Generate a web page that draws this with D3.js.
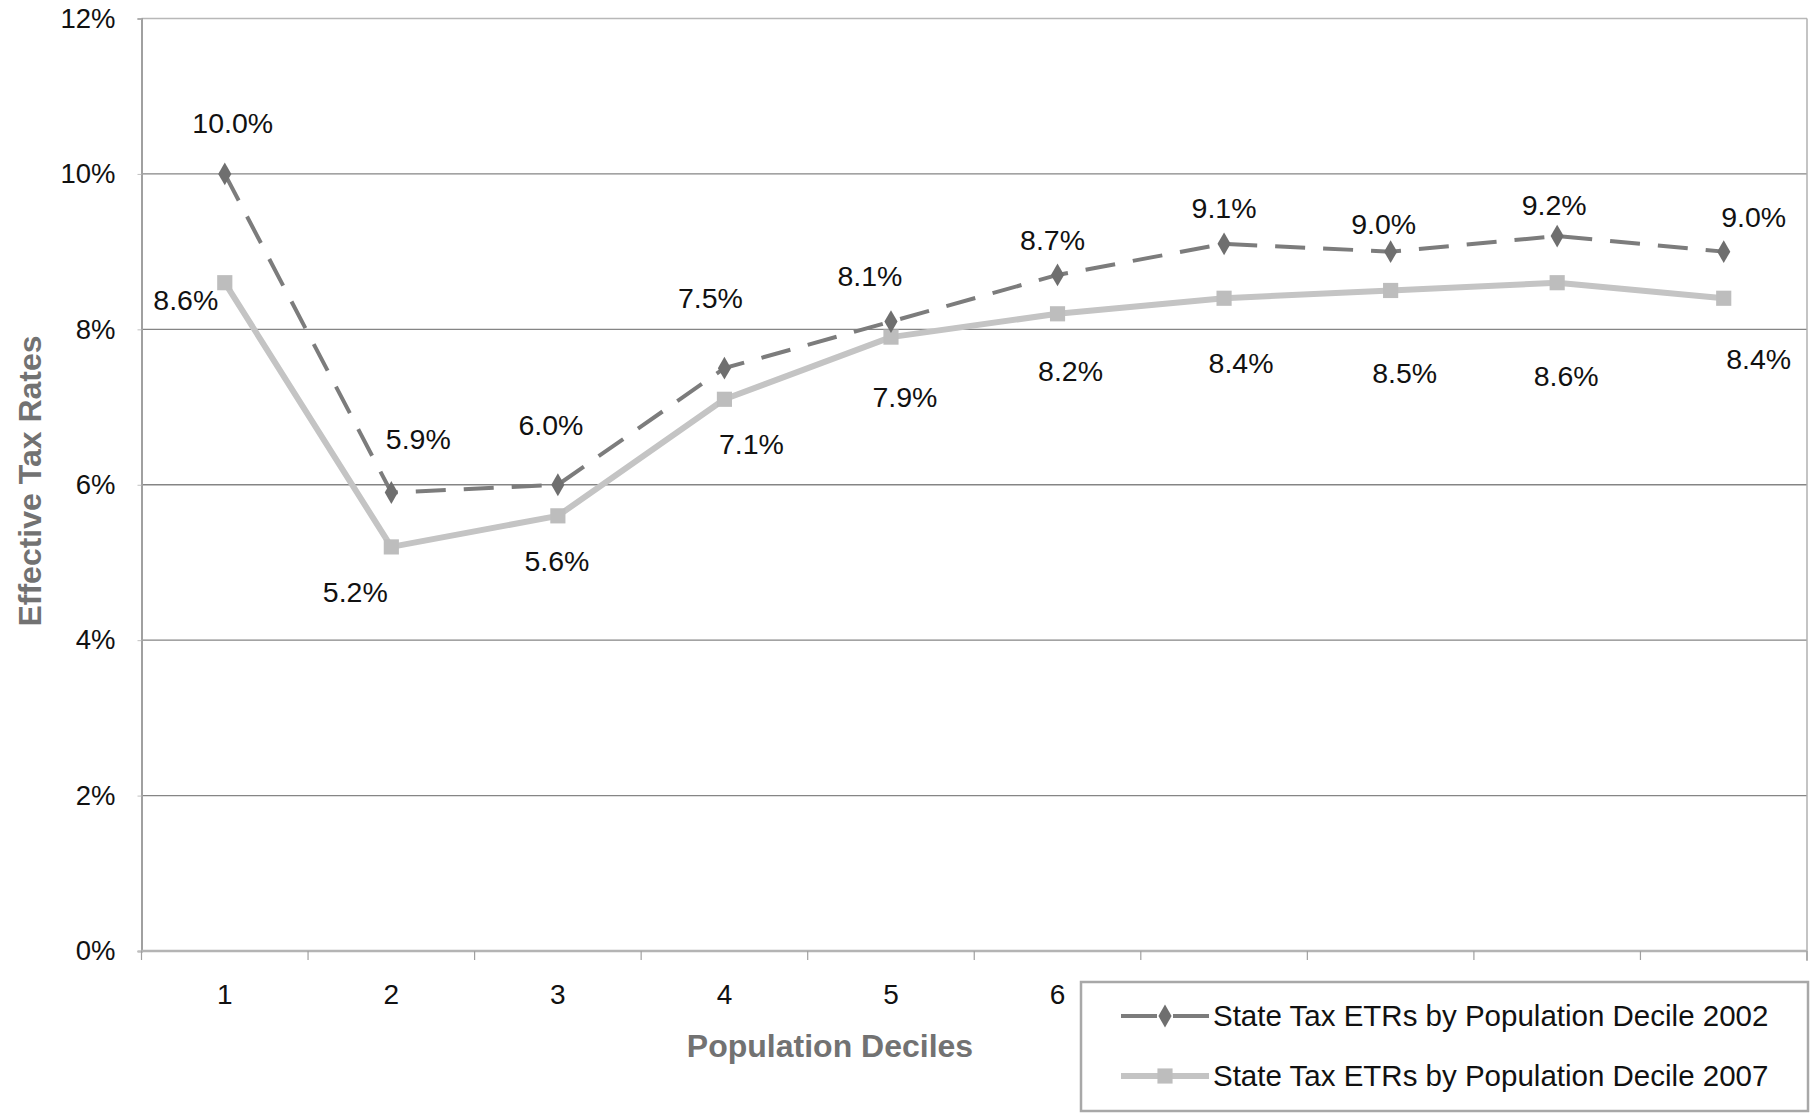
<!DOCTYPE html>
<html>
<head>
<meta charset="utf-8">
<script src="https://cdn.jsdelivr.net/npm/d3@7"></script>
<style>
  html, body { margin: 0; padding: 0; background: #fff; }
  svg { display: block; }
  text { font-family: "Liberation Sans", Arial, Helvetica, sans-serif; }
</style>
</head>
<body>
<svg id="chart" width="1818" height="1113"></svg>
<script>
// Population deciles and effective tax rates (percent)
const deciles = ["1", "2", "3", "4", "5", "6", "7", "8", "9", "10"];
const etr2002 = [10.0, 5.9, 6.0, 7.5, 8.1, 8.7, 9.1, 9.0, 9.2, 9.0];
const etr2007 = [8.6, 5.2, 5.6, 7.1, 7.9, 8.2, 8.4, 8.5, 8.6, 8.4];
const yTicks = [0, 2, 4, 6, 8, 10, 12];
const seriesNames = [
  "State Tax ETRs by Population Decile 2002",
  "State Tax ETRs by Population Decile 2007"
];

// Label placement nudges (px) relative to each point
const nudge2002 = [[8,-51],[27,-53],[-7,-60],[-14,-70],[-21,-46],[-5,-35],[0,-36],[-7,-28],[-3,-31],[30,-35]];
const nudge2007 = [[-39,17],[-36,45],[-1,45],[27,45],[14,60],[13,57],[17,65],[14,83],[9,93],[35,61]];

const svg = d3.select("#chart");
const plotL = 141.5, plotR = 1807, plotT = 18.5, plotB = 951;
const legendX = 1081, legendY = 982;

const x = d3.scaleBand().domain(deciles).range([plotL, plotR]);
const y = d3.scaleLinear().domain([0, 12]).range([plotB, plotT]);
const cx = d => x(d) + x.bandwidth() / 2;

// Horizontal gridlines
svg.append("g").selectAll("line").data(yTicks.filter(t => t > 0)).join("line")
  .attr("x1", plotL).attr("x2", plotR)
  .attr("y1", d => y(d)).attr("y2", d => y(d))
  .attr("stroke", d => d === 12 ? "#b8b8b8" : "#858585")
  .attr("stroke-width", 1.3);

// Right border of plot
svg.append("line")
  .attr("x1", plotR).attr("x2", plotR).attr("y1", plotT).attr("y2", plotB + 10)
  .attr("stroke", "#b0b0b0").attr("stroke-width", 1.5);

// Y axis
const yAxis = d3.axisLeft(y).tickValues(yTicks).tickSize(4).tickPadding(22)
  .tickFormat(d => d + "%");
const gy = svg.append("g").attr("transform", `translate(${plotL},0)`).call(yAxis);
gy.select(".domain").attr("stroke", "#a0a0a0").attr("stroke-width", 2);
gy.selectAll(".tick line").attr("stroke", "#c0c0c0");
gy.selectAll("text").attr("font-size", 27.5).attr("fill", "#111")
  .attr("font-family", "Liberation Sans, Arial, sans-serif");

// X axis: baseline, boundary ticks and category labels (legend hides the right-hand ones)
svg.append("line")
  .attr("x1", plotL).attr("x2", plotR).attr("y1", plotB).attr("y2", plotB)
  .attr("stroke", "#b4b4b4").attr("stroke-width", 2.5);
const bounds = deciles.map(d => x(d)).concat([x.range()[1]]);
svg.append("g").selectAll("line").data(bounds).join("line")
  .attr("x1", d => d).attr("x2", d => d)
  .attr("y1", plotB).attr("y2", plotB + 9)
  .attr("stroke", "#a0a0a0").attr("stroke-width", 1.2);
svg.append("g").selectAll("text").data(deciles.filter(d => cx(d) < legendX)).join("text")
  .attr("x", d => cx(d)).attr("y", 994).attr("dy", "0.35em")
  .attr("text-anchor", "middle").attr("font-size", 28).attr("fill", "#111")
  .text(d => d);

// Axis titles
svg.append("text")
  .attr("transform", `translate(30,481) rotate(-90)`)
  .attr("dy", "0.35em").attr("text-anchor", "middle")
  .attr("font-size", 32).attr("font-weight", "bold").attr("fill", "#727272")
  .text("Effective Tax Rates");
svg.append("text")
  .attr("x", 830).attr("y", 1046).attr("dy", "0.35em").attr("text-anchor", "middle")
  .attr("font-size", 32).attr("font-weight", "bold").attr("fill", "#727272")
  .text("Population Deciles");

// Series lines
const line = d3.line().x((v, i) => cx(deciles[i])).y(v => y(v));
svg.append("path").datum(etr2007).attr("d", line)
  .attr("fill", "none").attr("stroke", "#c4c4c4").attr("stroke-width", 6)
  .attr("stroke-linejoin", "round");
svg.append("path").datum(etr2002).attr("d", line)
  .attr("fill", "none").attr("stroke", "#7c7c7c").attr("stroke-width", 4)
  .attr("stroke-dasharray", "30 18");

// Markers
const sq = d3.symbol().type(d3.symbolSquare).size(230);
const dia = d3.symbol().type(d3.symbolDiamond).size(150);
svg.append("g").selectAll("path").data(etr2007).join("path")
  .attr("d", sq).attr("fill", "#bdbdbd")
  .attr("transform", (v, i) => `translate(${cx(deciles[i])},${y(v)})`);
svg.append("g").selectAll("path").data(etr2002).join("path")
  .attr("d", dia).attr("fill", "#6f6f6f")
  .attr("transform", (v, i) => `translate(${cx(deciles[i])},${y(v)})`);

// Value labels
function labels(values, nudges) {
  svg.append("g").selectAll("text").data(values).join("text")
    .attr("x", (v, i) => cx(deciles[i]) + nudges[i][0])
    .attr("y", (v, i) => y(v) + nudges[i][1])
    .attr("dy", "0.35em").attr("text-anchor", "middle")
    .attr("font-size", 28.5).attr("fill", "#111")
    .text(v => v.toFixed(1) + "%");
}
labels(etr2002, nudge2002);
labels(etr2007, nudge2007);

// Legend
const lg = svg.append("g");
lg.append("rect").attr("x", legendX).attr("y", legendY).attr("width", 727).attr("height", 129)
  .attr("fill", "#fff").attr("stroke", "#a8a8a8").attr("stroke-width", 2.5);
const rows = [
  { name: seriesNames[0], yy: 1016, stroke: "#7c7c7c", w: 4, dash: "36 16 36", sym: dia, fill: "#6f6f6f" },
  { name: seriesNames[1], yy: 1076, stroke: "#c4c4c4", w: 6, dash: null, sym: sq, fill: "#bdbdbd" }
];
rows.forEach(r => {
  lg.append("line").attr("x1", 1121).attr("x2", 1209).attr("y1", r.yy).attr("y2", r.yy)
    .attr("stroke", r.stroke).attr("stroke-width", r.w)
    .attr("stroke-dasharray", r.dash);
  lg.append("path").attr("d", r.sym).attr("fill", r.fill)
    .attr("transform", `translate(1165,${r.yy})`);
  lg.append("text").attr("x", 1213).attr("y", r.yy).attr("dy", "0.35em")
    .attr("font-size", 29.5).attr("fill", "#111").text(r.name);
});
</script>
</body>
</html>
